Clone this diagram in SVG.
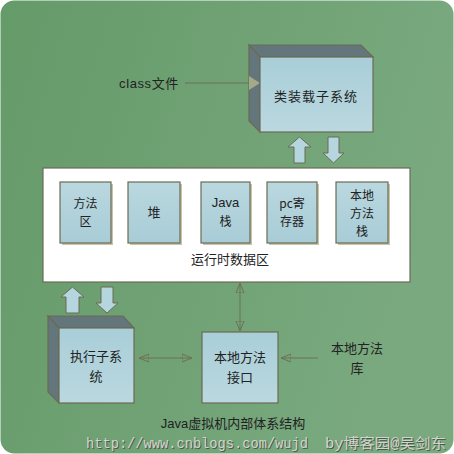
<svg xmlns="http://www.w3.org/2000/svg" width="454" height="454" viewBox="0 0 454 454">
<defs>
<linearGradient id="bg" x1="0" y1="0" x2="1" y2="0.3"><stop offset="0" stop-color="#659a69"/><stop offset="1" stop-color="#7aa97f"/></linearGradient>
<linearGradient id="face" x1="0" y1="0" x2="0" y2="1"><stop offset="0" stop-color="#a9ced8"/><stop offset="1" stop-color="#bad8e0"/></linearGradient>
<linearGradient id="face2" x1="0" y1="0" x2="0" y2="1"><stop offset="0" stop-color="#bad8e0"/><stop offset="1" stop-color="#a8ccd6"/></linearGradient>
<marker id="open" viewBox="0 0 10 10" refX="10" refY="5" markerWidth="10" markerHeight="10" markerUnits="userSpaceOnUse" orient="auto-start-reverse"><path d="M0,1 L10,5 L0,9 Z" fill="none" stroke="#6e6e58" stroke-width="1"/></marker>
</defs>
<style>
.box{fill:url(#face);stroke:#6b6b55;stroke-width:1.2}
.ibox{fill:url(#face2);stroke:#6b6b55;stroke-width:1.2}
.shadow{fill:#c9c4a8}
.side{fill:#62767c;stroke:#6b6b55;stroke-width:1.2}
.t{font-family:"Noto Sans CJK SC","Liberation Sans",sans-serif;font-size:13px;fill:#222;text-anchor:middle}
.s{font-size:12px}
.ta{font-family:"Liberation Sans","Noto Sans CJK SC",sans-serif;font-size:13px;fill:#222;text-anchor:middle}
.conn{stroke:#6e6e58;stroke-width:1;fill:none}
.bar{fill:#b5d6df;stroke:#6b6b55;stroke-width:1}
</style>
<rect x="0" y="0" width="454" height="454" fill="#ffffff"/>
<rect x="0.5" y="0.5" width="453" height="453" rx="14" fill="url(#bg)"/>

<g id="connectors">
<line class="conn" x1="185" y1="83" x2="249" y2="83"/>
<line class="conn" x1="240" y1="283" x2="240" y2="331" marker-start="url(#open)" marker-end="url(#open)"/>
<line class="conn" x1="139" y1="358" x2="192" y2="358" marker-start="url(#open)" marker-end="url(#open)"/>
<line class="conn" x1="318" y1="358" x2="281" y2="358" marker-end="url(#open)"/>
<path class="bar" d="M294,163 L294,147 L288,147 L299.5,137 L311,147 L305,147 L305,163 Z"/>
<path class="bar" d="M328,137 L339,137 L339,153 L344,153 L333.5,163 L323,153 L328,153 Z"/>
<path class="bar" d="M66,313 L66,297 L61,297 L72.5,287 L84,297 L79,297 L79,313 Z"/>
<path class="bar" d="M101,287 L113,287 L113,303 L118,303 L107,313 L96,303 L101,303 Z"/>
</g>

<g id="loader">
<path class="side" d="M249,45 L361,45 L373,57 L260,57 Z"/>
<path class="side" d="M249,45 L260,57 L260,132 L249,121 Z"/>
<path d="M249,76 L260,83 L249,90 Z" fill="#a4a98a"/>
<rect class="box" x="260" y="57" width="113" height="75"/>
<text class="t" x="316" y="101" font-size="14" letter-spacing="1">类装载子系统</text>
</g>
<g id="class-file"><text class="ta" x="149" y="88" font-size="14" letter-spacing="0.6">class文件</text></g>

<g id="runtime">
<rect x="43" y="168" width="367" height="114" fill="#ffffff" stroke="#6b6b55" stroke-width="1.2"/>
<text class="t" x="230" y="264">运行时数据区</text>
</g>
<g id="method-area">
<rect class="shadow" x="62" y="184" width="51" height="61"/>
<rect class="ibox" x="60" y="182" width="51" height="61"/>
<text class="t s" x="85.5" y="208">方法</text><text class="t s" x="85.5" y="226">区</text>
</g>
<g id="heap">
<rect class="shadow" x="130" y="184" width="52" height="61"/>
<rect class="ibox" x="128" y="182" width="52" height="61"/>
<text class="t" x="154" y="217">堆</text>
</g>
<g id="java-stack">
<rect class="shadow" x="203" y="184" width="49" height="61"/>
<rect class="ibox" x="201" y="182" width="49" height="61"/>
<text class="ta" x="225.5" y="207">Java</text><text class="t s" x="225.5" y="226">栈</text>
</g>
<g id="pc-register">
<rect class="shadow" x="269" y="184" width="50" height="61"/>
<rect class="ibox" x="267" y="182" width="50" height="61"/>
<text class="t s" x="292" y="208">pc寄</text><text class="t s" x="292" y="226">存器</text>
</g>
<g id="native-stack">
<rect class="shadow" x="338" y="184" width="52" height="61"/>
<rect class="ibox" x="336" y="182" width="52" height="61"/>
<text class="t s" x="362" y="200">本地</text><text class="t s" x="362" y="218">方法</text><text class="t s" x="362" y="236">栈</text>
</g>

<g id="exec">
<path class="side" d="M48,316 L123,316 L134,328 L59,328 Z"/>
<path class="side" d="M48,316 L59,328 L59,403 L48,392 Z"/>
<rect class="box" x="59" y="328" width="75" height="75"/>
<text class="t" x="96" y="361" font-size="14">执行子系</text>
<text class="t" x="96" y="381" font-size="14">统</text>
</g>

<g id="native-interface">
<rect class="box" x="202" y="332" width="76" height="71"/>
<text class="t" x="240" y="362" font-size="14">本地方法</text>
<text class="t" x="240" y="382" font-size="14">接口</text>
</g>

<g id="native-lib">
<text class="t" x="357" y="353" font-size="14">本地方法</text>
<text class="t" x="357" y="373" font-size="14">库</text>
</g>

<text class="ta" x="233" y="428" font-size="12">Java虚拟机内部体系结构</text>
<g font-family="'Liberation Mono','Noto Sans CJK SC',monospace" font-size="14">
<text x="87" y="449" fill="#4a5a4a" textLength="222" lengthAdjust="spacingAndGlyphs">http://www.cnblogs.com/wujd</text>
<text x="86" y="448" fill="#d4d4cc" textLength="222" lengthAdjust="spacingAndGlyphs">http://www.cnblogs.com/wujd</text>
<text x="326" y="449" fill="#4a5a4a" textLength="121" lengthAdjust="spacingAndGlyphs">by博客园@吴剑东</text>
<text x="325" y="448" fill="#d4d4cc" textLength="121" lengthAdjust="spacingAndGlyphs">by博客园@吴剑东</text>
</g>
</svg>
